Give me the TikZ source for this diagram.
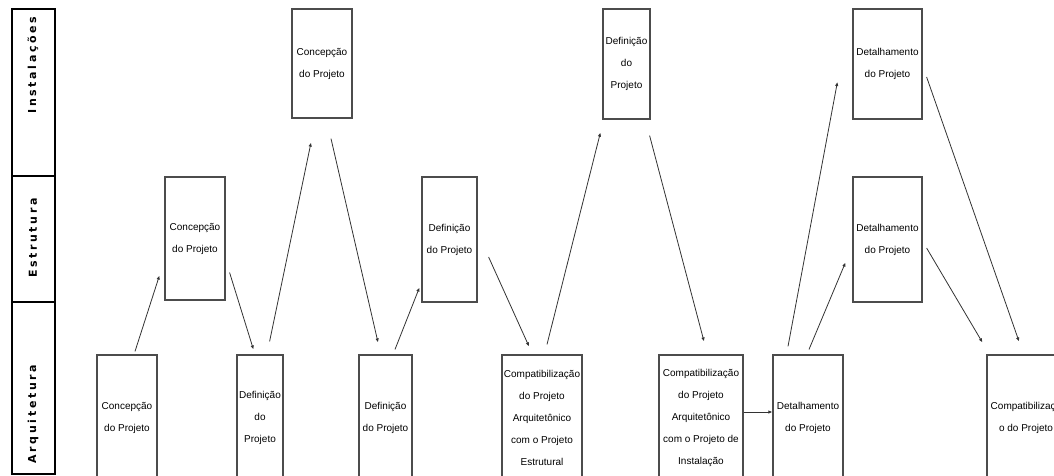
\documentclass[tikz,border=0pt]{standalone}
\usepackage{fontspec}
\newfontfamily\boxfont{Liberation Sans}
\newfontfamily\lanefont[LetterSpace=24]{DejaVu Sans}
\usetikzlibrary{arrows.meta}

\begin{document}
\begin{tikzpicture}[x=1pt,y=-1pt,
  etapa/.style={draw=black!70,line width=1.2pt,inner sep=0pt,align=center,
    font=\boxfont\fontsize{10}{22}\selectfont},
  seta/.style={-{Latex[length=4pt,width=3.5pt]},draw=black!80,line width=0.8pt},
  faixa/.style={font=\lanefont\bfseries\fontsize{11}{11}\selectfont,rotate=90}]

  \clip (0,0) rectangle (1054,475);

  % swimlane column
  \draw[line width=1.8pt] (12,9) rectangle (55,474);
  \draw[line width=1.8pt] (12,176) -- (55,176);
  \draw[line width=1.8pt] (12,302) -- (55,302);
  \node[faixa] (lInst) at (33,65)  {Instalações};
  \node[faixa] (lEstr) at (33,238) {Estrutura};
  \node[faixa] (lArq)  at (33,414) {Arquitetura};

  % Arquitetura
  \node[etapa,minimum width=60,minimum height=126] (A1) at (127,418)
    {Concepção\\do Projeto};
  \node[etapa,minimum width=46,minimum height=126] (A2) at (260,418)
    {Definição\\do\\Projeto};
  \node[etapa,minimum width=53,minimum height=126] (A3) at (385.5,418)
    {Definição\\do Projeto};
  \node[etapa,minimum width=80,minimum height=126] (A4) at (542,418)
    {Compatibilização\\do Projeto\\Arquitetônico\\com o Projeto\\Estrutural};
  \node[etapa,minimum width=84,minimum height=126] (A5) at (701,418)
    {Compatibilização\\do Projeto\\Arquitetônico\\com o Projeto de\\Instalação};
  \node[etapa,minimum width=70,minimum height=126] (A6) at (808,418)
    {Detalhamento\\do Projeto};
  \node[etapa,minimum width=78,minimum height=126] (A7) at (1026,418)
    {Compatibilizaçã\\o do Projeto};

  % Estrutura
  \node[etapa,minimum width=60,minimum height=123] (E1) at (195,238.5)
    {Concepção\\do Projeto};
  \node[etapa,minimum width=55,minimum height=125] (E2) at (449.5,239.5)
    {Definição\\do Projeto};
  \node[etapa,minimum width=69,minimum height=125] (E3) at (887.5,239.5)
    {Detalhamento\\do Projeto};

  % Instalações
  \node[etapa,minimum width=60,minimum height=109] (I1) at (322,63.5)
    {Concepção\\do Projeto};
  \node[etapa,minimum width=47,minimum height=110] (I2) at (626.5,64)
    {Definição\\do\\Projeto};
  \node[etapa,minimum width=69,minimum height=110] (I3) at (887.5,64)
    {Detalhamento\\do Projeto};

  % fluxo
  \draw[seta] ([shift={(8,-3)}]A1.north) -- ([shift={(-5,-25)}]E1.south west);
  \draw[seta] ([shift={(4,-28)}]E1.south east) -- ([shift={(17,-5)}]A2.north west);
  \draw[seta] ([shift={(-14,-13)}]A2.north east) -- ([shift={(-11,24)}]I1.south);
  \draw[seta] ([shift={(9,20)}]I1.south) -- ([shift={(-7.5,-12)}]A3.north);
  \draw[seta] ([shift={(9.5,-5)}]A3.north) -- ([shift={(-2,-15)}]E2.south west);
  \draw[seta] ([shift={(11,17.5)}]E2.east) -- ([shift={(-13,-8)}]A4.north);
  \draw[seta] ([shift={(5,-10)}]A4.north) -- ([shift={(-2,13)}]I2.south west);
  \draw[seta] ([shift={(-1,16)}]I2.south east) -- ([shift={(3,-13)}]A5.north);
  \draw[seta] ([shift={(0,-6)}]A5.east) -- ([shift={(0,-6)}]A6.west);
  \draw[seta] ([shift={(-20,-8)}]A6.north) -- ([shift={(-15,18)}]I3.west);
  \draw[seta] ([shift={(1,-5)}]A6.north) -- ([shift={(-7,-40)}]E3.south west);
  \draw[seta] ([shift={(4,8.5)}]E3.east) -- ([shift={(-4,-12)}]A7.north west);
  \draw[seta] ([shift={(4,13)}]I3.east) -- ([shift={(-7,-13)}]A7.north);

\end{tikzpicture}
\end{document}
